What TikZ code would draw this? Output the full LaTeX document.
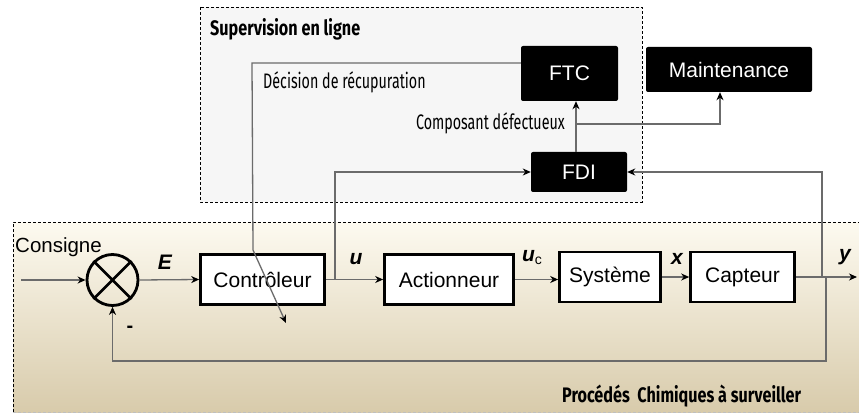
\documentclass[tikz,border=0pt]{standalone}
\usepackage{fontspec}
\setmainfont{Liberation Sans}
\newfontfamily\condfont[FakeStretch=0.68]{Fira Sans}
\newfontfamily\condbfont[FakeStretch=0.77]{Fira Sans}
\usetikzlibrary{arrows.meta,calc}
\definecolor{bgtop}{HTML}{FDFAF0}
\definecolor{bgbot}{HTML}{D8CBAB}
\definecolor{supfill}{HTML}{F6F6F6}
\begin{document}
\begin{tikzpicture}[x=1pt,y=-1pt,
  wbox/.style={draw=black,line width=2.6pt,fill=white,minimum height=50pt,inner sep=0pt,font=\fontsize{21}{24}\selectfont},
  bbox/.style={fill=black,rounded corners=2pt,text=white,inner sep=0pt,font=\fontsize{21}{24}\selectfont},
  conn/.style={draw=black!58,line width=1.3pt},
  arr/.style={conn,-{Stealth[length=8pt,width=7pt,inset=2.5pt,color=black]}},
  lab/.style={inner sep=0pt,font=\fontsize{21}{24}\selectfont\bfseries\itshape},
  condtxt/.style={inner sep=0pt,font=\condfont\fontsize{21}{24}\selectfont},
  condbold/.style={inner sep=0pt,font=\condbfont\fontsize{21}{24}\selectfont\bfseries}
]
\useasboundingbox (0,0) rectangle (859,414);
% process area
\path[top color=bgtop,bottom color=bgbot] (13,222) rectangle (870,412);
\draw[line width=0.9pt,dash pattern=on 3pt off 2pt] (13,412) -- (13,222) -- (859,222);
\draw[line width=0.9pt,dash pattern=on 3pt off 2pt,draw=black!25] (13,412) -- (859,412);
% supervision area
\draw[fill=supfill,line width=0.9pt,dash pattern=on 3pt off 2pt] (200,7) rectangle (642,202);

% blocks
\node[circle,draw,line width=2.8pt,minimum size=51pt,inner sep=0pt] (sum) at (112.5,280) {};
\draw[line width=2.8pt] (sum.north west) -- (sum.south east) (sum.north east) -- (sum.south west);
\node[wbox,minimum width=124pt] (ctrl) at (262.5,279.5) {Contrôleur};
\node[wbox,minimum width=129pt] (act) at (449,279.5) {Actionneur};
\node[wbox,minimum width=101pt] (sys) at (610,277) {Système};
\node[wbox,minimum width=104pt] (cap) at (742.5,277) {Capteur};
\node[bbox,minimum width=97pt,minimum height=55pt] (ftc) at (569.5,73.5) {FTC};
\node[bbox,minimum width=96pt,minimum height=40pt] (fdi) at (579,172) {FDI};
\node[bbox,minimum width=166pt,minimum height=45pt] (mnt) at (729,69.5) {Maintenance};

% coordinates
\coordinate (in) at (21,280);
\coordinate (out) at (857,277);
\coordinate (bu) at (335,279.5);
\coordinate (by) at (822,277);
\coordinate (fb) at (826,277);
\coordinate (fbc) at (826,361);
\coordinate (fdit) at (576,152);
\coordinate (mb) at (576,124);
\coordinate (d1) at (252,63);
\coordinate (d2) at (253,250);
\coordinate (d3) at (286,323);

% connectors
\draw[arr] (in) -- (sum.west);
\draw[arr] (sum.east) -- (ctrl.west);
\draw[arr] (ctrl.east) -- (act.west);
\draw[arr] (act.east) -- (act.east -| sys.west);
\draw[arr] (sys.east) -- (cap.west);
\draw[arr] (cap.east) -- (out);
\draw[arr] (bu) |- (fdi.west);
\draw[arr] (by) |- (fdi.east);
\draw[arr] (fb) -- (fbc) -| (sum.south);
\draw[arr] (fdit) -- (fdit |- ftc.south);
\draw[arr] (mb) -| ($(mnt.south)+(-9,0)$);
\draw[arr] (ftc.west |- d1) -- (d1) -- (d2) -- (d3);

% labels
\node[inner sep=0pt,anchor=west,font=\fontsize{20.5}{24}\selectfont] (cons) at (15,247) {Consigne};
\node[lab] (lE) at (165,262) {E};
\node[lab] (lu) at (356,259) {u};
\node[lab] (luc) at (532,258) {u\raisebox{-3pt}{\fontsize{14}{16}\selectfont\mdseries\upshape c}};
\node[lab] (lx) at (677,259) {x};
\node[lab] (ly) at (845,257) {y};
\node[inner sep=0pt,font=\fontsize{20}{24}\selectfont\bfseries] (lm) at (130,329) {-};
\node[condbold,anchor=west] (tsup) at (210,29) {Supervision en ligne};
\node[condtxt,anchor=west] (tdec) at (263,82) {Décision de récupuration};
\node[condtxt,anchor=east] (tcomp) at (565,123) {Composant défectueux};
\node[condbold,anchor=west] (tproc) at (562,396) {Procédés\ \ Chimiques à surveiller};
\end{tikzpicture}
\end{document}
